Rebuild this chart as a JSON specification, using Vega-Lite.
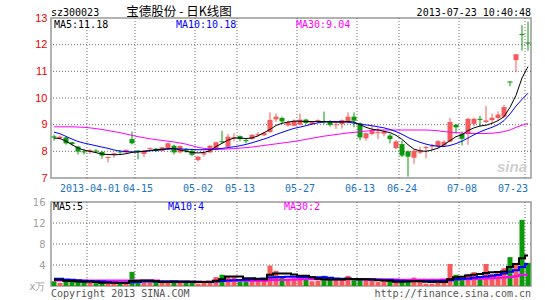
{
"$schema": "https://vega.github.io/schema/vega-lite/v6.json",
"padding": {"left": 28, "top": 5, "right": 14, "bottom": 2},
"spacing": 24,
"bounds": "flush",
"config": {
  "view": {"stroke": "#999999", "strokeWidth": 1.5},
  "axis": {"domain": false, "ticks": true, "tickColor": "transparent", "tickSize": 5, "grid": false}
},
"datasets": {
"gv": [{"g":"2013-04-01"},{"g":"2013-04-15"},{"g":"2013-05-02"},{"g":"2013-05-13"},{"g":"2013-05-27"},{"g":"2013-06-13"},{"g":"2013-06-24"},{"g":"2013-07-08"},{"g":"2013-07-23"}],
"gp": [{"g":8},{"g":9},{"g":10},{"g":11},{"g":12}],
"gq": [{"g":4},{"g":8},{"g":12}],
"k": [
{"d":"2013-03-22","o":8.56,"h":8.63,"l":8.40,"c":8.52,"v":0.9,"m5":8.50,"m10":8.72,"m30":8.92,"vm5":1.2,"vm10":1.4,"vm30":1.07},
{"d":"2013-03-25","o":8.50,"h":8.60,"l":8.45,"c":8.55,"v":0.6,"m5":8.48,"m10":8.66,"m30":8.92,"vm5":1.2,"vm10":1.4,"vm30":1.07},
{"d":"2013-03-26","o":8.52,"h":8.55,"l":8.25,"c":8.30,"v":0.95,"m5":8.38,"m10":8.56,"m30":8.92,"vm5":1.0,"vm10":1.25,"vm30":1.07},
{"d":"2013-03-27","o":8.34,"h":8.36,"l":8.22,"c":8.27,"v":0.95,"m5":8.25,"m10":8.46,"m30":8.92,"vm5":0.95,"vm10":1.2,"vm30":1.07},
{"d":"2013-03-28","o":8.18,"h":8.20,"l":7.88,"c":7.99,"v":0.85,"m5":8.12,"m10":8.37,"m30":8.91,"vm5":0.85,"vm10":1.1,"vm30":1.07},
{"d":"2013-03-29","o":8.00,"h":8.07,"l":7.88,"c":7.96,"v":0.75,"m5":8.05,"m10":8.31,"m30":8.90,"vm5":0.82,"vm10":1.0,"vm30":1.07},
{"d":"2013-04-01","o":7.98,"h":8.10,"l":7.90,"c":8.04,"v":0.65,"m5":8.00,"m10":8.26,"m30":8.88,"vm5":0.82,"vm10":0.95,"vm30":1.07},
{"d":"2013-04-02","o":8.03,"h":8.08,"l":7.94,"c":7.99,"v":0.55,"m5":7.95,"m10":8.21,"m30":8.85,"vm5":0.75,"vm10":0.9,"vm30":1.07},
{"d":"2013-04-03","o":7.98,"h":8.02,"l":7.72,"c":7.84,"v":0.55,"m5":7.90,"m10":8.16,"m30":8.82,"vm5":0.63,"vm10":0.85,"vm30":1.07},
{"d":"2013-04-08","o":7.75,"h":7.80,"l":7.58,"c":7.79,"v":0.45,"m5":7.88,"m10":8.11,"m30":8.78,"vm5":0.6,"vm10":0.75,"vm30":1.07},
{"d":"2013-04-09","o":7.88,"h":7.95,"l":7.76,"c":7.93,"v":0.45,"m5":7.87,"m10":8.05,"m30":8.74,"vm5":0.6,"vm10":0.65,"vm30":1.07},
{"d":"2013-04-10","o":7.99,"h":8.05,"l":7.88,"c":7.96,"v":0.7,"m5":7.88,"m10":8.01,"m30":8.70,"vm5":0.6,"vm10":0.63,"vm30":1.07},
{"d":"2013-04-11","o":7.96,"h":8.07,"l":7.95,"c":8.06,"v":0.65,"m5":7.91,"m10":7.99,"m30":8.65,"vm5":0.63,"vm10":0.63,"vm30":1.07},
{"d":"2013-04-12","o":8.46,"h":8.74,"l":8.26,"c":8.30,"v":2.7,"m5":7.96,"m10":7.98,"m30":8.60,"vm5":0.95,"vm10":0.7,"vm30":1.07},
{"d":"2013-04-15","o":8.03,"h":8.05,"l":7.70,"c":7.99,"v":0.9,"m5":7.98,"m10":7.98,"m30":8.55,"vm5":1.0,"vm10":0.78,"vm30":1.07},
{"d":"2013-04-16","o":7.90,"h":8.05,"l":7.78,"c":8.03,"v":0.7,"m5":8.00,"m10":8.00,"m30":8.51,"vm5":1.05,"vm10":0.85,"vm30":1.07},
{"d":"2013-04-17","o":8.08,"h":8.15,"l":8.05,"c":8.12,"v":0.7,"m5":8.03,"m10":8.02,"m30":8.47,"vm5":1.05,"vm10":0.85,"vm30":1.07},
{"d":"2013-04-18","o":8.10,"h":8.12,"l":7.98,"c":8.01,"v":0.9,"m5":8.06,"m10":8.04,"m30":8.44,"vm5":0.9,"vm10":0.88,"vm30":1.07},
{"d":"2013-04-19","o":8.02,"h":8.17,"l":8.00,"c":8.15,"v":0.7,"m5":8.08,"m10":8.06,"m30":8.41,"vm5":0.75,"vm10":0.9,"vm30":0.82},
{"d":"2013-04-22","o":8.12,"h":8.33,"l":8.10,"c":8.30,"v":0.8,"m5":8.10,"m10":8.08,"m30":8.38,"vm5":0.78,"vm10":0.9,"vm30":0.82},
{"d":"2013-04-23","o":8.21,"h":8.25,"l":7.88,"c":7.96,"v":0.85,"m5":8.11,"m10":8.09,"m30":8.35,"vm5":0.8,"vm10":0.9,"vm30":0.82},
{"d":"2013-04-24","o":7.96,"h":8.22,"l":7.92,"c":8.20,"v":0.75,"m5":8.05,"m10":8.09,"m30":8.31,"vm5":0.82,"vm10":0.88,"vm30":0.82},
{"d":"2013-04-25","o":8.08,"h":8.12,"l":7.95,"c":8.02,"v":0.9,"m5":8.00,"m10":8.08,"m30":8.27,"vm5":0.82,"vm10":0.85,"vm30":0.82},
{"d":"2013-04-26","o":8.02,"h":8.10,"l":7.82,"c":7.87,"v":0.9,"m5":7.96,"m10":8.07,"m30":8.21,"vm5":0.82,"vm10":0.82,"vm30":0.82},
{"d":"2013-05-02","o":7.67,"h":7.82,"l":7.62,"c":7.80,"v":0.45,"m5":7.94,"m10":8.06,"m30":8.15,"vm5":0.78,"vm10":0.8,"vm30":0.82},
{"d":"2013-05-03","o":7.88,"h":8.00,"l":7.80,"c":7.93,"v":0.8,"m5":7.96,"m10":8.06,"m30":8.11,"vm5":0.78,"vm10":0.78,"vm30":0.82},
{"d":"2013-05-06","o":7.96,"h":8.23,"l":7.94,"c":8.21,"v":0.95,"m5":8.02,"m10":8.07,"m30":8.09,"vm5":0.8,"vm10":0.78,"vm30":0.82},
{"d":"2013-05-07","o":8.05,"h":8.36,"l":8.03,"c":8.34,"v":1.7,"m5":8.18,"m10":8.09,"m30":8.08,"vm5":1.0,"vm10":0.85,"vm30":1.0},
{"d":"2013-05-08","o":8.38,"h":8.77,"l":8.30,"c":8.34,"v":2.15,"m5":8.30,"m10":8.11,"m30":8.08,"vm5":1.3,"vm10":0.95,"vm30":1.0},
{"d":"2013-05-09","o":8.17,"h":8.65,"l":8.15,"c":8.55,"v":1.9,"m5":8.42,"m10":8.14,"m30":8.09,"vm5":1.8,"vm10":1.05,"vm30":1.0},
{"d":"2013-05-10","o":8.48,"h":8.68,"l":8.38,"c":8.53,"v":1.7,"m5":8.50,"m10":8.17,"m30":8.10,"vm5":1.8,"vm10":1.1,"vm30":1.0},
{"d":"2013-05-13","o":8.57,"h":8.60,"l":8.38,"c":8.46,"v":0.9,"m5":8.50,"m10":8.21,"m30":8.12,"vm5":1.8,"vm10":1.15,"vm30":1.0},
{"d":"2013-05-14","o":8.42,"h":8.48,"l":8.30,"c":8.38,"v":0.9,"m5":8.48,"m10":8.26,"m30":8.14,"vm5":1.5,"vm10":1.2,"vm30":1.0},
{"d":"2013-05-15","o":8.46,"h":8.64,"l":8.44,"c":8.62,"v":1.35,"m5":8.50,"m10":8.32,"m30":8.16,"vm5":1.5,"vm10":1.3,"vm30":1.0},
{"d":"2013-05-16","o":8.60,"h":8.72,"l":8.55,"c":8.64,"v":1.45,"m5":8.58,"m10":8.39,"m30":8.19,"vm5":1.27,"vm10":1.4,"vm30":1.0},
{"d":"2013-05-17","o":8.60,"h":8.72,"l":8.58,"c":8.70,"v":1.15,"m5":8.70,"m10":8.46,"m30":8.22,"vm5":1.27,"vm10":1.45,"vm30":1.0},
{"d":"2013-05-20","o":8.72,"h":9.46,"l":8.70,"c":9.18,"v":3.9,"m5":8.82,"m10":8.54,"m30":8.25,"vm5":2.15,"vm10":1.6,"vm30":1.15},
{"d":"2013-05-21","o":9.20,"h":9.42,"l":9.10,"c":9.30,"v":2.9,"m5":8.97,"m10":8.63,"m30":8.28,"vm5":2.4,"vm10":1.65,"vm30":1.15},
{"d":"2013-05-22","o":9.25,"h":9.30,"l":9.05,"c":9.12,"v":1.9,"m5":9.05,"m10":8.71,"m30":8.31,"vm5":2.4,"vm10":1.7,"vm30":1.15},
{"d":"2013-05-23","o":8.97,"h":9.15,"l":8.92,"c":9.10,"v":1.4,"m5":9.10,"m10":8.79,"m30":8.34,"vm5":2.4,"vm10":1.75,"vm30":1.2},
{"d":"2013-05-24","o":8.96,"h":9.20,"l":8.94,"c":9.15,"v":1.5,"m5":9.13,"m10":8.86,"m30":8.37,"vm5":2.2,"vm10":1.75,"vm30":1.25},
{"d":"2013-05-27","o":9.00,"h":9.42,"l":8.98,"c":9.19,"v":1.65,"m5":9.13,"m10":8.91,"m30":8.41,"vm5":1.96,"vm10":1.7,"vm30":1.3},
{"d":"2013-05-28","o":9.19,"h":9.22,"l":9.03,"c":9.06,"v":1.25,"m5":9.12,"m10":8.96,"m30":8.45,"vm5":1.96,"vm10":1.65,"vm30":1.3},
{"d":"2013-05-29","o":9.02,"h":9.12,"l":9.00,"c":9.10,"v":0.9,"m5":9.12,"m10":9.02,"m30":8.49,"vm5":1.65,"vm10":1.65,"vm30":1.3},
{"d":"2013-05-30","o":9.13,"h":9.20,"l":9.05,"c":9.17,"v":1.0,"m5":9.12,"m10":9.07,"m30":8.53,"vm5":1.4,"vm10":1.65,"vm30":1.3},
{"d":"2013-05-31","o":9.14,"h":9.49,"l":9.02,"c":9.10,"v":1.95,"m5":9.11,"m10":9.10,"m30":8.57,"vm5":1.3,"vm10":1.65,"vm30":1.3},
{"d":"2013-06-03","o":9.12,"h":9.17,"l":8.93,"c":8.99,"v":1.25,"m5":9.10,"m10":9.12,"m30":8.60,"vm5":1.25,"vm10":1.55,"vm30":1.3},
{"d":"2013-06-04","o":8.98,"h":9.08,"l":8.84,"c":9.01,"v":1.25,"m5":9.09,"m10":9.12,"m30":8.63,"vm5":1.25,"vm10":1.45,"vm30":1.3},
{"d":"2013-06-05","o":9.02,"h":9.20,"l":8.85,"c":9.17,"v":1.15,"m5":9.10,"m10":9.11,"m30":8.66,"vm5":1.25,"vm10":1.4,"vm30":1.3},
{"d":"2013-06-06","o":9.12,"h":9.46,"l":9.05,"c":9.30,"v":1.95,"m5":9.12,"m10":9.09,"m30":8.69,"vm5":1.4,"vm10":1.4,"vm30":1.3},
{"d":"2013-06-07","o":9.30,"h":9.46,"l":8.90,"c":9.15,"v":1.25,"m5":9.10,"m10":9.06,"m30":8.71,"vm5":1.35,"vm10":1.35,"vm30":1.3},
{"d":"2013-06-13","o":9.05,"h":9.08,"l":8.41,"c":8.52,"v":1.15,"m5":9.00,"m10":9.02,"m30":8.74,"vm5":1.3,"vm10":1.3,"vm30":1.3},
{"d":"2013-06-14","o":8.49,"h":8.70,"l":8.40,"c":8.68,"v":1.15,"m5":8.90,"m10":8.99,"m30":8.76,"vm5":1.27,"vm10":1.3,"vm30":1.3},
{"d":"2013-06-17","o":8.65,"h":8.95,"l":8.60,"c":8.80,"v":1.0,"m5":8.83,"m10":8.96,"m30":8.78,"vm5":1.25,"vm10":1.25,"vm30":1.3},
{"d":"2013-06-18","o":8.68,"h":8.88,"l":8.46,"c":8.72,"v":0.75,"m5":8.80,"m10":8.92,"m30":8.80,"vm5":1.1,"vm10":1.2,"vm30":1.3},
{"d":"2013-06-19","o":8.66,"h":8.77,"l":8.56,"c":8.74,"v":1.0,"m5":8.75,"m10":8.88,"m30":8.80,"vm5":1.05,"vm10":1.15,"vm30":1.3},
{"d":"2013-06-20","o":8.59,"h":8.65,"l":8.30,"c":8.46,"v":1.15,"m5":8.70,"m10":8.82,"m30":8.80,"vm5":1.0,"vm10":1.12,"vm30":1.3},
{"d":"2013-06-21","o":8.12,"h":8.42,"l":8.08,"c":8.37,"v":0.9,"m5":8.60,"m10":8.74,"m30":8.80,"vm5":0.8,"vm10":1.05,"vm30":1.25},
{"d":"2013-06-24","o":8.27,"h":8.40,"l":7.78,"c":7.84,"v":1.2,"m5":8.45,"m10":8.64,"m30":8.80,"vm5":0.8,"vm10":1.0,"vm30":1.2},
{"d":"2013-06-25","o":8.00,"h":8.03,"l":7.05,"c":7.80,"v":1.15,"m5":8.25,"m10":8.52,"m30":8.80,"vm5":0.85,"vm10":0.95,"vm30":1.2},
{"d":"2013-06-26","o":7.76,"h":8.05,"l":7.53,"c":8.02,"v":1.6,"m5":8.08,"m10":8.42,"m30":8.80,"vm5":0.9,"vm10":0.95,"vm30":1.2},
{"d":"2013-06-27","o":7.95,"h":8.17,"l":7.90,"c":8.03,"v":1.1,"m5":8.02,"m10":8.34,"m30":8.80,"vm5":0.9,"vm10":0.95,"vm30":1.2},
{"d":"2013-06-28","o":8.12,"h":8.20,"l":7.74,"c":8.16,"v":0.45,"m5":8.00,"m10":8.27,"m30":8.80,"vm5":0.8,"vm10":0.95,"vm30":1.2},
{"d":"2013-07-01","o":8.18,"h":8.28,"l":8.05,"c":8.21,"v":0.45,"m5":8.05,"m10":8.22,"m30":8.79,"vm5":0.76,"vm10":0.95,"vm30":1.2},
{"d":"2013-07-02","o":8.18,"h":8.42,"l":8.15,"c":8.38,"v":0.9,"m5":8.12,"m10":8.19,"m30":8.77,"vm5":0.8,"vm10":0.95,"vm30":1.2},
{"d":"2013-07-03","o":8.22,"h":8.42,"l":8.18,"c":8.36,"v":0.65,"m5":8.25,"m10":8.18,"m30":8.74,"vm5":0.76,"vm10":1.0,"vm30":1.25},
{"d":"2013-07-04","o":8.36,"h":9.25,"l":8.34,"c":9.10,"v":4.2,"m5":8.40,"m10":8.22,"m30":8.72,"vm5":1.3,"vm10":1.1,"vm30":1.3},
{"d":"2013-07-05","o":9.00,"h":9.02,"l":8.66,"c":8.90,"v":2.15,"m5":8.55,"m10":8.29,"m30":8.70,"vm5":1.65,"vm10":1.3,"vm30":1.3},
{"d":"2013-07-08","o":8.65,"h":8.75,"l":8.22,"c":8.47,"v":1.3,"m5":8.62,"m10":8.38,"m30":8.68,"vm5":1.75,"vm10":1.4,"vm30":1.3},
{"d":"2013-07-09","o":8.68,"h":9.25,"l":8.24,"c":9.22,"v":2.3,"m5":8.78,"m10":8.50,"m30":8.67,"vm5":2.0,"vm10":1.45,"vm30":1.3},
{"d":"2013-07-10","o":9.03,"h":9.26,"l":8.95,"c":9.22,"v":2.65,"m5":8.88,"m10":8.62,"m30":8.67,"vm5":2.15,"vm10":1.55,"vm30":1.35},
{"d":"2013-07-11","o":9.22,"h":9.33,"l":8.92,"c":9.18,"v":1.5,"m5":8.95,"m10":8.73,"m30":8.67,"vm5":2.3,"vm10":1.7,"vm30":1.4},
{"d":"2013-07-12","o":9.10,"h":9.70,"l":9.06,"c":9.16,"v":4.2,"m5":8.98,"m10":8.82,"m30":8.67,"vm5":2.5,"vm10":1.8,"vm30":1.45},
{"d":"2013-07-15","o":9.17,"h":9.42,"l":9.06,"c":9.26,"v":2.3,"m5":9.05,"m10":8.90,"m30":8.68,"vm5":2.6,"vm10":1.95,"vm30":1.5},
{"d":"2013-07-16","o":9.25,"h":9.50,"l":9.18,"c":9.38,"v":2.5,"m5":9.15,"m10":9.00,"m30":8.70,"vm5":2.65,"vm10":2.1,"vm30":1.55},
{"d":"2013-07-17","o":9.30,"h":9.74,"l":9.26,"c":9.66,"v":3.4,"m5":9.30,"m10":9.15,"m30":8.74,"vm5":2.75,"vm10":2.4,"vm30":1.6},
{"d":"2013-07-18","o":10.62,"h":10.62,"l":10.44,"c":10.58,"v":5.5,"m5":9.65,"m10":9.40,"m30":8.80,"vm5":3.6,"vm10":2.7,"vm30":1.7},
{"d":"2013-07-19","o":11.42,"h":11.64,"l":10.97,"c":11.64,"v":4.4,"m5":10.10,"m10":9.70,"m30":8.90,"vm5":4.2,"vm10":3.0,"vm30":1.85},
{"d":"2013-07-22","o":12.40,"h":12.73,"l":11.78,"c":12.36,"v":12.6,"m5":10.75,"m10":9.95,"m30":8.98,"vm5":5.3,"vm10":3.6,"vm30":2.15},
{"d":"2013-07-23","o":12.08,"h":12.86,"l":11.78,"c":12.04,"v":4.4,"m5":11.18,"m10":10.18,"m30":9.04,"vm5":5.8,"vm10":4.2,"vm30":2.15}
]},
"vconcat": [
{
  "width": 480, "height": 160,
  "layer": [
    {"data": {"name": "gp"}, "mark": {"type": "rule", "color": "#6e6e6e", "strokeWidth": 1, "strokeDash": [1, 2]},
     "encoding": {"y": {"field": "g", "type": "quantitative", "title": null, "scale": {"domain": [7, 13], "zero": false, "nice": false},
       "axis": {"values": [7,8,9,10,11,12,13], "tickCount": 7, "labelOverlap": false, "labelColor": "#ee0000", "labelFont": "Liberation Sans", "labelFontSize": 11, "labelPadding": -1}}}},
    {"data": {"name": "gv"}, "mark": {"type": "rule", "color": "#6e6e6e", "strokeWidth": 1, "strokeDash": [1, 2]},
     "encoding": {"x": {"field": "g", "type": "ordinal", "title": null, "bandPosition": 0,
       "scale": {"paddingInner": 0, "paddingOuter": 0},
       "axis": {"values": ["2013-04-01","2013-04-15","2013-05-02","2013-05-13","2013-05-27","2013-06-13","2013-06-24","2013-07-08","2013-07-23"],
         "bandPosition": 0, "labelAngle": 0, "labelOverlap": false, "labelBound": false,
         "labelExpr": "datum.value == '2013-04-01' ? datum.value : slice(datum.value, 5)",
         "labelAlign": {"condition": {"test": "datum.value == '2013-07-23'", "value": "right"}, "value": "center"},
         "labelColor": "#1a73c6", "labelFont": "DejaVu Sans Mono", "labelFontSize": 10, "labelPadding": 0}}}},
    {"data": {"name": "k"},
     "encoding": {"x": {"field": "d", "type": "ordinal", "title": null,
       "scale": {"paddingInner": 0, "paddingOuter": 0},
       "axis": {"values": ["2013-04-01","2013-04-15","2013-05-02","2013-05-13","2013-05-27","2013-06-13","2013-06-24","2013-07-08","2013-07-23"],
         "bandPosition": 0, "labelAngle": 0, "labelOverlap": false, "labelBound": false,
         "labelExpr": "datum.value == '2013-04-01' ? datum.value : slice(datum.value, 5)",
         "labelAlign": {"condition": {"test": "datum.value == '2013-07-23'", "value": "right"}, "value": "center"},
         "labelColor": "#1a73c6", "labelFont": "DejaVu Sans Mono", "labelFontSize": 10, "labelPadding": 0}}},
     "layer": [
      {"mark": {"type": "rule", "strokeWidth": 1},
       "encoding": {
         "y": {"field": "l", "type": "quantitative", "title": null, "axis": {"values": [7,8,9,10,11,12,13], "tickCount": 7, "labelOverlap": false, "labelColor": "#ee0000", "labelFont": "Liberation Sans", "labelFontSize": 11, "labelPadding": -1}},
         "y2": {"field": "h"},
         "color": {"condition": {"test": "datum.c > datum.o", "value": "#f65b5b"}, "value": "#0a9a0a"}}},
      {"mark": {"type": "bar", "size": 5},
       "encoding": {
         "y": {"field": "o", "type": "quantitative", "title": null, "axis": {"values": [7,8,9,10,11,12,13], "tickCount": 7, "labelOverlap": false, "labelColor": "#ee0000", "labelFont": "Liberation Sans", "labelFontSize": 11, "labelPadding": -1}},
         "y2": {"field": "c"},
         "color": {"condition": {"test": "datum.c > datum.o", "value": "#f65b5b"}, "value": "#0a9a0a"}}},
      {"mark": {"type": "line", "color": "#ff00ff", "strokeWidth": 1}, "encoding": {"y": {"field": "m30", "type": "quantitative", "title": null, "axis": {"values": [7,8,9,10,11,12,13], "tickCount": 7, "labelOverlap": false, "labelColor": "#ee0000", "labelFont": "Liberation Sans", "labelFontSize": 11, "labelPadding": -1}}}},
      {"mark": {"type": "line", "color": "#0000ff", "strokeWidth": 1}, "encoding": {"y": {"field": "m10", "type": "quantitative", "title": null, "axis": {"values": [7,8,9,10,11,12,13], "tickCount": 7, "labelOverlap": false, "labelColor": "#ee0000", "labelFont": "Liberation Sans", "labelFontSize": 11, "labelPadding": -1}}}},
      {"mark": {"type": "line", "color": "#000000", "strokeWidth": 1}, "encoding": {"y": {"field": "m5", "type": "quantitative", "title": null, "axis": {"values": [7,8,9,10,11,12,13], "tickCount": 7, "labelOverlap": false, "labelColor": "#ee0000", "labelFont": "Liberation Sans", "labelFontSize": 11, "labelPadding": -1}}}}
     ]},
    {"data": {"values": [{}]},
     "encoding": {"y": {"datum": 13, "type": "quantitative", "title": null, "axis": {"values": [7,8,9,10,11,12,13], "tickCount": 7, "labelOverlap": false, "labelColor": "#ee0000", "labelFont": "Liberation Sans", "labelFontSize": 11, "labelPadding": -1}}},
     "layer": [
       {"mark": {"type": "text", "text": "sz300023", "align": "left", "baseline": "middle", "dx": -3, "dy": -5, "font": "DejaVu Sans Mono", "fontSize": 10, "color": "#000000"}, "encoding": {"x": {"datum": "2013-03-22"}}},
       {"mark": {"type": "text", "text": "宝德股份 - 日K线图", "align": "center", "baseline": "middle", "dx": -1, "dy": -6, "font": "Noto Sans CJK SC", "fontSize": 12.5, "color": "#000000"}, "encoding": {"x": {"datum": "2013-04-24"}}},
       {"mark": {"type": "text", "text": "2013-07-23 10:40:48", "align": "right", "baseline": "middle", "dx": 3, "dy": -5, "font": "DejaVu Sans Mono", "fontSize": 10, "color": "#000000"}, "encoding": {"x": {"datum": "2013-07-23"}}},
       {"mark": {"type": "text", "text": "MA5:11.18", "align": "left", "baseline": "middle", "dx": 0, "dy": 7, "font": "DejaVu Sans Mono", "fontSize": 10, "color": "#000000"}, "encoding": {"x": {"datum": "2013-03-22"}}},
       {"mark": {"type": "text", "text": "MA10:10.18", "align": "left", "baseline": "middle", "dx": 2, "dy": 7, "font": "DejaVu Sans Mono", "fontSize": 10, "color": "#0000ff"}, "encoding": {"x": {"datum": "2013-04-23"}}},
       {"mark": {"type": "text", "text": "MA30:9.04", "align": "left", "baseline": "middle", "dx": 2, "dy": 7, "font": "DejaVu Sans Mono", "fontSize": 10, "color": "#ff00ff"}, "encoding": {"x": {"datum": "2013-05-24"}}}
     ]},
    {"data": {"values": [{}]}, "mark": {"type": "text", "text": "sina", "align": "center", "baseline": "middle", "dx": 2, "font": "Liberation Sans", "fontSize": 15, "fontWeight": "bold", "fontStyle": "italic", "color": "#cfcfcf"},
     "encoding": {"x": {"datum": "2013-07-18"}, "y": {"datum": 7.42, "type": "quantitative", "title": null, "axis": {"values": [7,8,9,10,11,12,13], "tickCount": 7, "labelOverlap": false, "labelColor": "#ee0000", "labelFont": "Liberation Sans", "labelFontSize": 11, "labelPadding": -1}}}}
  ]
},
{
  "width": 480, "height": 84,
  "layer": [
    {"data": {"name": "gq"}, "mark": {"type": "rule", "color": "#6e6e6e", "strokeWidth": 1, "strokeDash": [1, 2]},
     "encoding": {"y": {"field": "g", "type": "quantitative", "title": null, "scale": {"domain": [0, 16], "nice": false},
       "axis": {"values": [0,4,8,12,16], "labelOverlap": false, "labelColor": "#a0a0a0", "labelFont": "DejaVu Sans", "labelFontSize": 10, "labelPadding": 1, "labelExpr": "datum.value == 0 ? 'x万' : datum.label"}}}},
    {"data": {"name": "gv"}, "mark": {"type": "rule", "color": "#6e6e6e", "strokeWidth": 1, "strokeDash": [1, 2]},
     "encoding": {"x": {"field": "g", "type": "ordinal", "title": null, "bandPosition": 0,
       "scale": {"paddingInner": 0, "paddingOuter": 0},
       "axis": {"values": ["2013-04-01","2013-04-15","2013-05-02","2013-05-13","2013-05-27","2013-06-13","2013-06-24","2013-07-08","2013-07-23"], "bandPosition": 0, "labels": false}}}},
    {"data": {"name": "k"},
     "encoding": {"x": {"field": "d", "type": "ordinal", "title": null,
       "scale": {"paddingInner": 0, "paddingOuter": 0},
       "axis": {"values": ["2013-04-01","2013-04-15","2013-05-02","2013-05-13","2013-05-27","2013-06-13","2013-06-24","2013-07-08","2013-07-23"], "bandPosition": 0, "labels": false}}},
     "layer": [
      {"mark": {"type": "bar", "size": 5},
       "encoding": {
         "y": {"field": "v", "type": "quantitative", "title": null,
               "axis": {"values": [0,4,8,12,16], "labelOverlap": false, "labelColor": "#a0a0a0", "labelFont": "DejaVu Sans", "labelFontSize": 10, "labelPadding": 1, "labelExpr": "datum.value == 0 ? 'x万' : datum.label"}},
         "color": {"condition": {"test": "datum.c > datum.o", "value": "#f65b5b"}, "value": "#0a9a0a"}}},
      {"mark": {"type": "line", "color": "#ff00ff", "strokeWidth": 2, "interpolate": "step"}, "encoding": {"y": {"field": "vm30", "type": "quantitative", "title": null, "axis": {"values": [0,4,8,12,16], "labelOverlap": false, "labelColor": "#a0a0a0", "labelFont": "DejaVu Sans", "labelFontSize": 10, "labelPadding": 1, "labelExpr": "datum.value == 0 ? 'x万' : datum.label"}}}},
      {"mark": {"type": "line", "color": "#0000ff", "strokeWidth": 2, "interpolate": "step"}, "encoding": {"y": {"field": "vm10", "type": "quantitative", "title": null, "axis": {"values": [0,4,8,12,16], "labelOverlap": false, "labelColor": "#a0a0a0", "labelFont": "DejaVu Sans", "labelFontSize": 10, "labelPadding": 1, "labelExpr": "datum.value == 0 ? 'x万' : datum.label"}}}},
      {"mark": {"type": "line", "color": "#000000", "strokeWidth": 2, "interpolate": "step"}, "encoding": {"y": {"field": "vm5", "type": "quantitative", "title": null, "axis": {"values": [0,4,8,12,16], "labelOverlap": false, "labelColor": "#a0a0a0", "labelFont": "DejaVu Sans", "labelFontSize": 10, "labelPadding": 1, "labelExpr": "datum.value == 0 ? 'x万' : datum.label"}}}}
     ]},
    {"data": {"values": [{}]},
     "encoding": {"y": {"datum": 16, "type": "quantitative", "title": null, "axis": {"values": [0,4,8,12,16], "labelOverlap": false, "labelColor": "#a0a0a0", "labelFont": "DejaVu Sans", "labelFontSize": 10, "labelPadding": 1, "labelExpr": "datum.value == 0 ? 'x万' : datum.label"}}},
     "layer": [
       {"mark": {"type": "text", "text": "MA5:5", "align": "left", "baseline": "middle", "dx": -1, "dy": 5, "font": "DejaVu Sans Mono", "fontSize": 10, "color": "#000000"}, "encoding": {"x": {"datum": "2013-03-22"}}},
       {"mark": {"type": "text", "text": "MA10:4", "align": "left", "baseline": "middle", "dx": 0, "dy": 5, "font": "DejaVu Sans Mono", "fontSize": 10, "color": "#0000ff"}, "encoding": {"x": {"datum": "2013-04-22"}}},
       {"mark": {"type": "text", "text": "MA30:2", "align": "left", "baseline": "middle", "dx": 2, "dy": 5, "font": "DejaVu Sans Mono", "fontSize": 10, "color": "#ff00ff"}, "encoding": {"x": {"datum": "2013-05-22"}}}
     ]},
    {"data": {"values": [{}]},
     "encoding": {"y": {"datum": 0, "type": "quantitative", "title": null, "axis": {"values": [0,4,8,12,16], "labelOverlap": false, "labelColor": "#a0a0a0", "labelFont": "DejaVu Sans", "labelFontSize": 10, "labelPadding": 1, "labelExpr": "datum.value == 0 ? 'x万' : datum.label"}}},
     "layer": [
       {"mark": {"type": "text", "text": "Copyright 2013 SINA.COM", "align": "left", "baseline": "middle", "dx": -3, "dy": 8, "font": "DejaVu Sans Mono", "fontSize": 10, "color": "#555555"}, "encoding": {"x": {"datum": "2013-03-22"}}},
       {"mark": {"type": "text", "text": "http://finance.sina.com.cn", "align": "right", "baseline": "middle", "dx": 3, "dy": 8, "font": "DejaVu Sans Mono", "fontSize": 10, "color": "#555555"}, "encoding": {"x": {"datum": "2013-07-23"}}}
     ]}
  ]
}
]
}
